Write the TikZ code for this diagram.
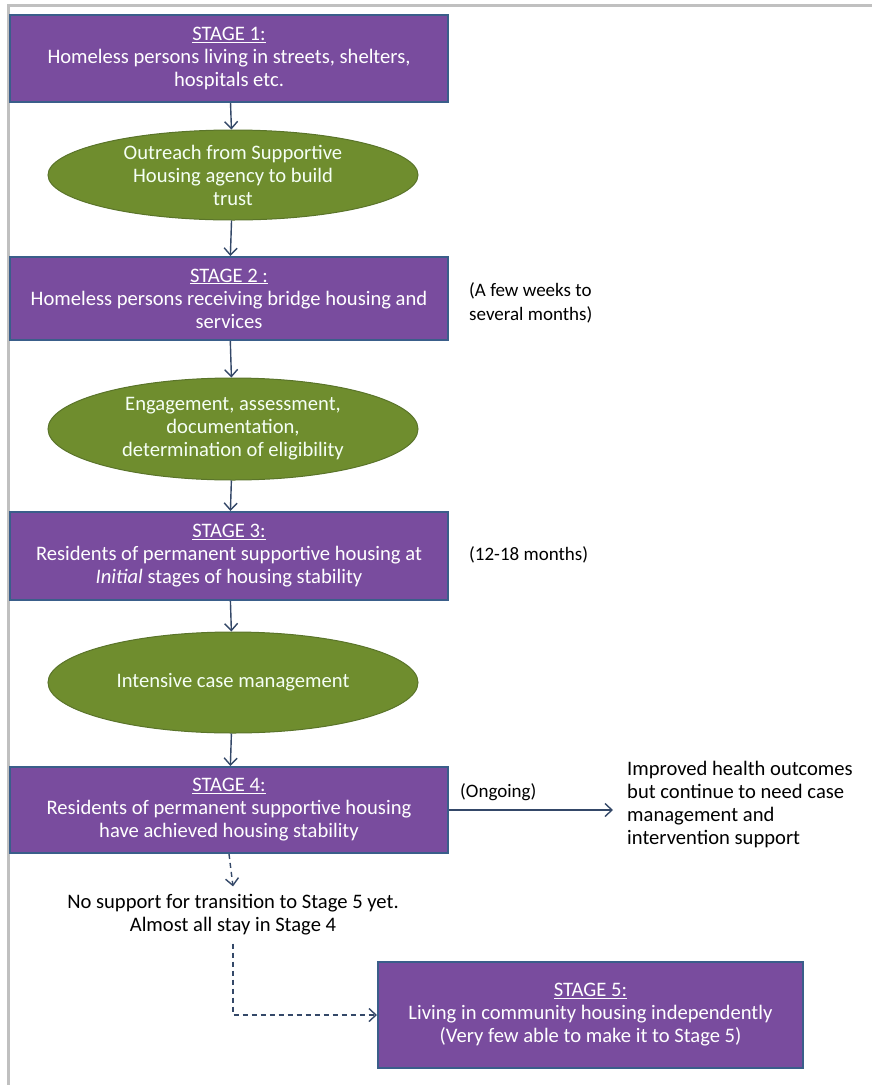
\documentclass[tikz,border=0pt]{standalone}
\usepackage{fontspec}
\setmainfont{Carlito}
\usetikzlibrary{shapes.geometric,arrows.meta}
\definecolor{stagefill}{RGB}{121,76,158}
\definecolor{stageedge}{RGB}{58,94,138}
\definecolor{talkfill}{RGB}{111,141,46}
\definecolor{talkedge}{RGB}{90,116,42}
\definecolor{flowline}{RGB}{52,72,104}
\definecolor{framegray}{RGB}{192,192,192}
\newcommand{\boxfont}{\fontsize{20.6}{23}\selectfont}
\newcommand{\sidefont}{\fontsize{19}{24}\selectfont}
\begin{document}
\begin{tikzpicture}[x=1pt,y=-1pt,
  stage/.style={draw=stageedge,line width=2pt,fill=stagefill,text=white,
    minimum width=438pt,align=center,inner sep=2pt,font=\boxfont},
  talk/.style={ellipse,draw=talkedge,line width=1pt,fill=talkfill,text=green!4,
    minimum width=370pt,align=center,inner sep=0pt,font=\boxfont},
  remark/.style={align=left,inner sep=0pt,font=\sidefont},
  flow/.style={draw=flowline,line width=1.4pt,-{Straight Barb[length=7pt,width=13pt]}},
  maybe/.style={flow,dashed,dash pattern=on 5pt off 4pt}]
  \useasboundingbox (0,0) rectangle (872,1085);
  % frame
  \draw[framegray,line width=3pt] (872,5) -- (8,5) -- (8,1085);
  % stages and steps
  \node[stage,minimum height=87pt] (s1) at (229,58.5)
    {\underline{STAGE 1:}\\Homeless persons living in streets, shelters,\\hospitals etc.};
  \node[talk,minimum height=90pt] (t1) at (233,175)
    {Outreach from Supportive\\Housing agency to build\\trust};
  \node[stage,minimum height=83pt] (s2) at (229,298.5)
    {\underline{STAGE 2 :}\\Homeless persons receiving bridge housing and\\services};
  \node[talk,minimum height=102pt] (t2) at (233,429)
    {Engagement, assessment,\\documentation,\\determination of eligibility};
  \node[stage,minimum height=88pt] (s3) at (229,556)
    {\underline{STAGE 3:}\\Residents of permanent supportive housing at\\\textit{Initial} stages of housing stability};
  \node[talk,minimum height=101pt] (t3) at (233,682.5) {Intensive case management};
  \node[stage,minimum height=86pt] (s4) at (229,810)
    {\underline{STAGE 4:}\\Residents of permanent supportive housing\\have achieved housing stability};
  \node[stage,minimum width=425pt,minimum height=106pt] (s5) at (590.5,1015)
    {\underline{STAGE 5:}\\Living in community housing independently\\(Very few able to make it to Stage 5)};
  % side notes
  \node[remark,anchor=west] (n2) at (469,303) {(A few weeks to\\several months)};
  \node[remark,anchor=west] (n3) at (469,555) {(12-18 months)};
  \node[remark,anchor=west] (n4) at (460,792) {(Ongoing)};
  \node[remark,anchor=west,font=\boxfont] (out) at (627,804)
    {Improved health outcomes\\but continue to need case\\management and\\intervention support};
  \node[remark,align=center,font=\boxfont] (stay) at (233,915)
    {No support for transition to Stage 5 yet.\\Almost all stay in Stage 4};
  % connectors
  \draw[flow] (s1) -- (t1);
  \draw[flow] (t1) -- (s2);
  \draw[flow] (s2) -- (t2);
  \draw[flow] (t2) -- (s3);
  \draw[flow] (s3) -- (t3);
  \draw[flow] (t3) -- (s4);
  \draw[flow] (s4.east) -- ++(164,0) coordinate (o4);
  \draw[maybe] (s4.south) -- ([yshift=8pt]stay.north);
  \draw[maybe] ([yshift=-8pt]stay.south) |- (s5.west);
\end{tikzpicture}
\end{document}
